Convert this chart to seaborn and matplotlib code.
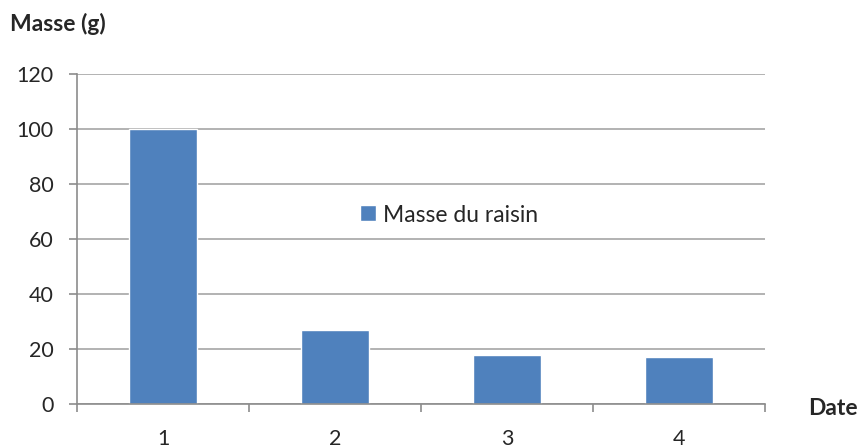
import matplotlib
matplotlib.use("Agg")
import matplotlib.pyplot as plt
import seaborn as sns
import pandas as pd

dates = ["1", "2", "3", "4"]
masses = [100, 27, 18, 17]
series_name = "Masse du raisin"
y_ticks = [0, 20, 40, 60, 80, 100, 120]

sns.set_style("white")
plt.rcParams["font.family"] = ["Lato", "DejaVu Sans"]

df = pd.DataFrame({"Date": dates, "Masse": masses, "Série": series_name})

fig = plt.figure(figsize=(8.59, 4.48), dpi=100)
ax = fig.add_axes([77 / 859, 44 / 448, (765 - 77) / 859, (404 - 74) / 448])

sns.barplot(data=df, x="Date", y="Masse", hue="Série", palette=["#4F81BD"],
            width=0.39, ax=ax, saturation=1, legend=True)

ax.set_ylim(0, 120)
ax.set_xlim(-0.5, len(dates) - 0.5)
ax.set_yticks(y_ticks)
ax.yaxis.grid(True, color="#a6a6a6", linewidth=1.2)
ax.set_axisbelow(True)

for s in ["top", "right"]:
    ax.spines[s].set_visible(False)
for s in ["left", "bottom"]:
    ax.spines[s].set_color("#8c8c8c")
    ax.spines[s].set_linewidth(1.2)

ax.tick_params(axis="y", which="major", direction="out", length=6, width=1.2,
               color="#8c8c8c", labelsize=15.5, pad=11, left=True)
ax.tick_params(axis="x", which="major", length=0, labelsize=15.5, pad=18)
ax.set_xticks([i - 0.5 for i in range(len(dates) + 1)], minor=True)
ax.tick_params(axis="x", which="minor", direction="out", length=6, width=1.2,
               color="#8c8c8c", bottom=True)

ax.set_xlabel("")
ax.set_ylabel("")
fig.text(10 / 859, 1 - 24 / 448, "Masse (g)", fontsize=16.5, fontweight="bold",
         ha="left", va="center")
fig.text(858 / 859, 1 - 408 / 448, "Date", fontsize=16.5, fontweight="bold",
         ha="right", va="center")

leg = ax.legend(loc="center", bbox_to_anchor=(449 / 859, 1 - 215 / 448),
                bbox_transform=fig.transFigure, frameon=False, fontsize=16.5,
                handlelength=0.7, handleheight=0.7, handletextpad=0.3)

fig.savefig("out.png", dpi=100)
